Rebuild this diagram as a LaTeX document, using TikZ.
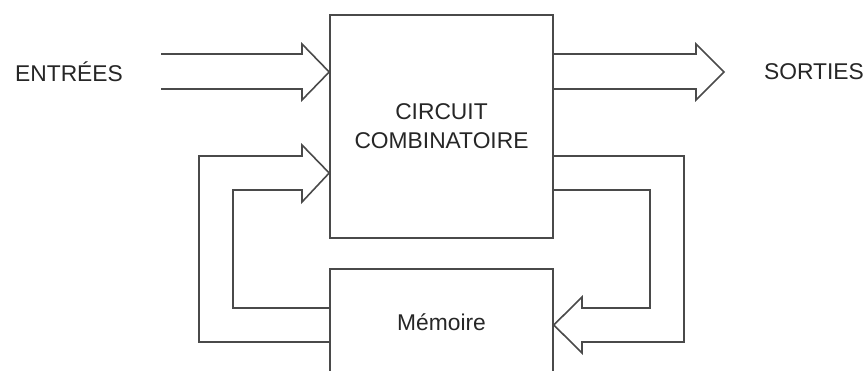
\documentclass[tikz,border=0pt]{standalone}
\usepackage{fontspec}
\setmainfont{Liberation Sans}
\usetikzlibrary{calc}
\definecolor{linegray}{HTML}{4A4A4A}
\definecolor{textgray}{HTML}{262626}
\begin{document}
\begin{tikzpicture}[x=1pt,y=-1pt,
  blockbox/.style={draw=linegray, line width=1.6pt, rectangle, inner sep=0pt, align=center,
     text=textgray, font=\fontsize{22.8}{29}\selectfont},
  label/.style={text=textgray, font=\fontsize{22.8}{26}\selectfont, inner sep=0pt},
  busarrow/.style={draw=linegray, line width=1.6pt, line join=miter}]
\clip (0,0) rectangle (867,371);
\fill[white] (0,0) rectangle (867,371);

% blocks
\node[blockbox, minimum width=223pt, minimum height=223pt] (comb) at (441.5,126.5) {CIRCUIT\\COMBINATOIRE};
\node[blockbox, minimum width=223pt, minimum height=106pt] (mem) at (441.5,322) {Mémoire};

% labels
\node[label] (in) at (69,72) {ENTRÉES};
\node[label] (out) at (814,72) {SORTIES};

% input bus arrow
\coordinate (intip) at (comb.west |- 0,72);
\draw[busarrow] (161,54) -- (302,54) -- (302,44) -- (intip) -- (302,100) -- (302,89) -- (161,89);

% output bus arrow
\coordinate (outa) at (comb.east |- 0,54);
\coordinate (outb) at (comb.east |- 0,89);
\draw[busarrow] (outa) -- (696,54) -- (696,44) -- (724,72) -- (696,100) -- (696,89) -- (outb);

% feedback: combinational -> memory (right side)
\coordinate (ra) at (comb.east |- 0,156);
\coordinate (rb) at (comb.east |- 0,190);
\coordinate (rtip) at (mem.east |- 0,325);
\draw[busarrow] (ra) -- (684,156) -- (684,342) -- (582,342) -- (582,353) -- (rtip)
  -- (582,297) -- (582,308) -- (650,308) -- (650,190) -- (rb);

% feedback: memory -> combinational (left side)
\coordinate (la) at (mem.west |- 0,342);
\coordinate (lb) at (mem.west |- 0,308);
\coordinate (ltip) at (comb.west |- 0,173);
\draw[busarrow] (la) -- (199,342) -- (199,156) -- (302,156) -- (302,145) -- (ltip)
  -- (302,202) -- (302,190) -- (233,190) -- (233,308) -- (lb);
\end{tikzpicture}
\end{document}
